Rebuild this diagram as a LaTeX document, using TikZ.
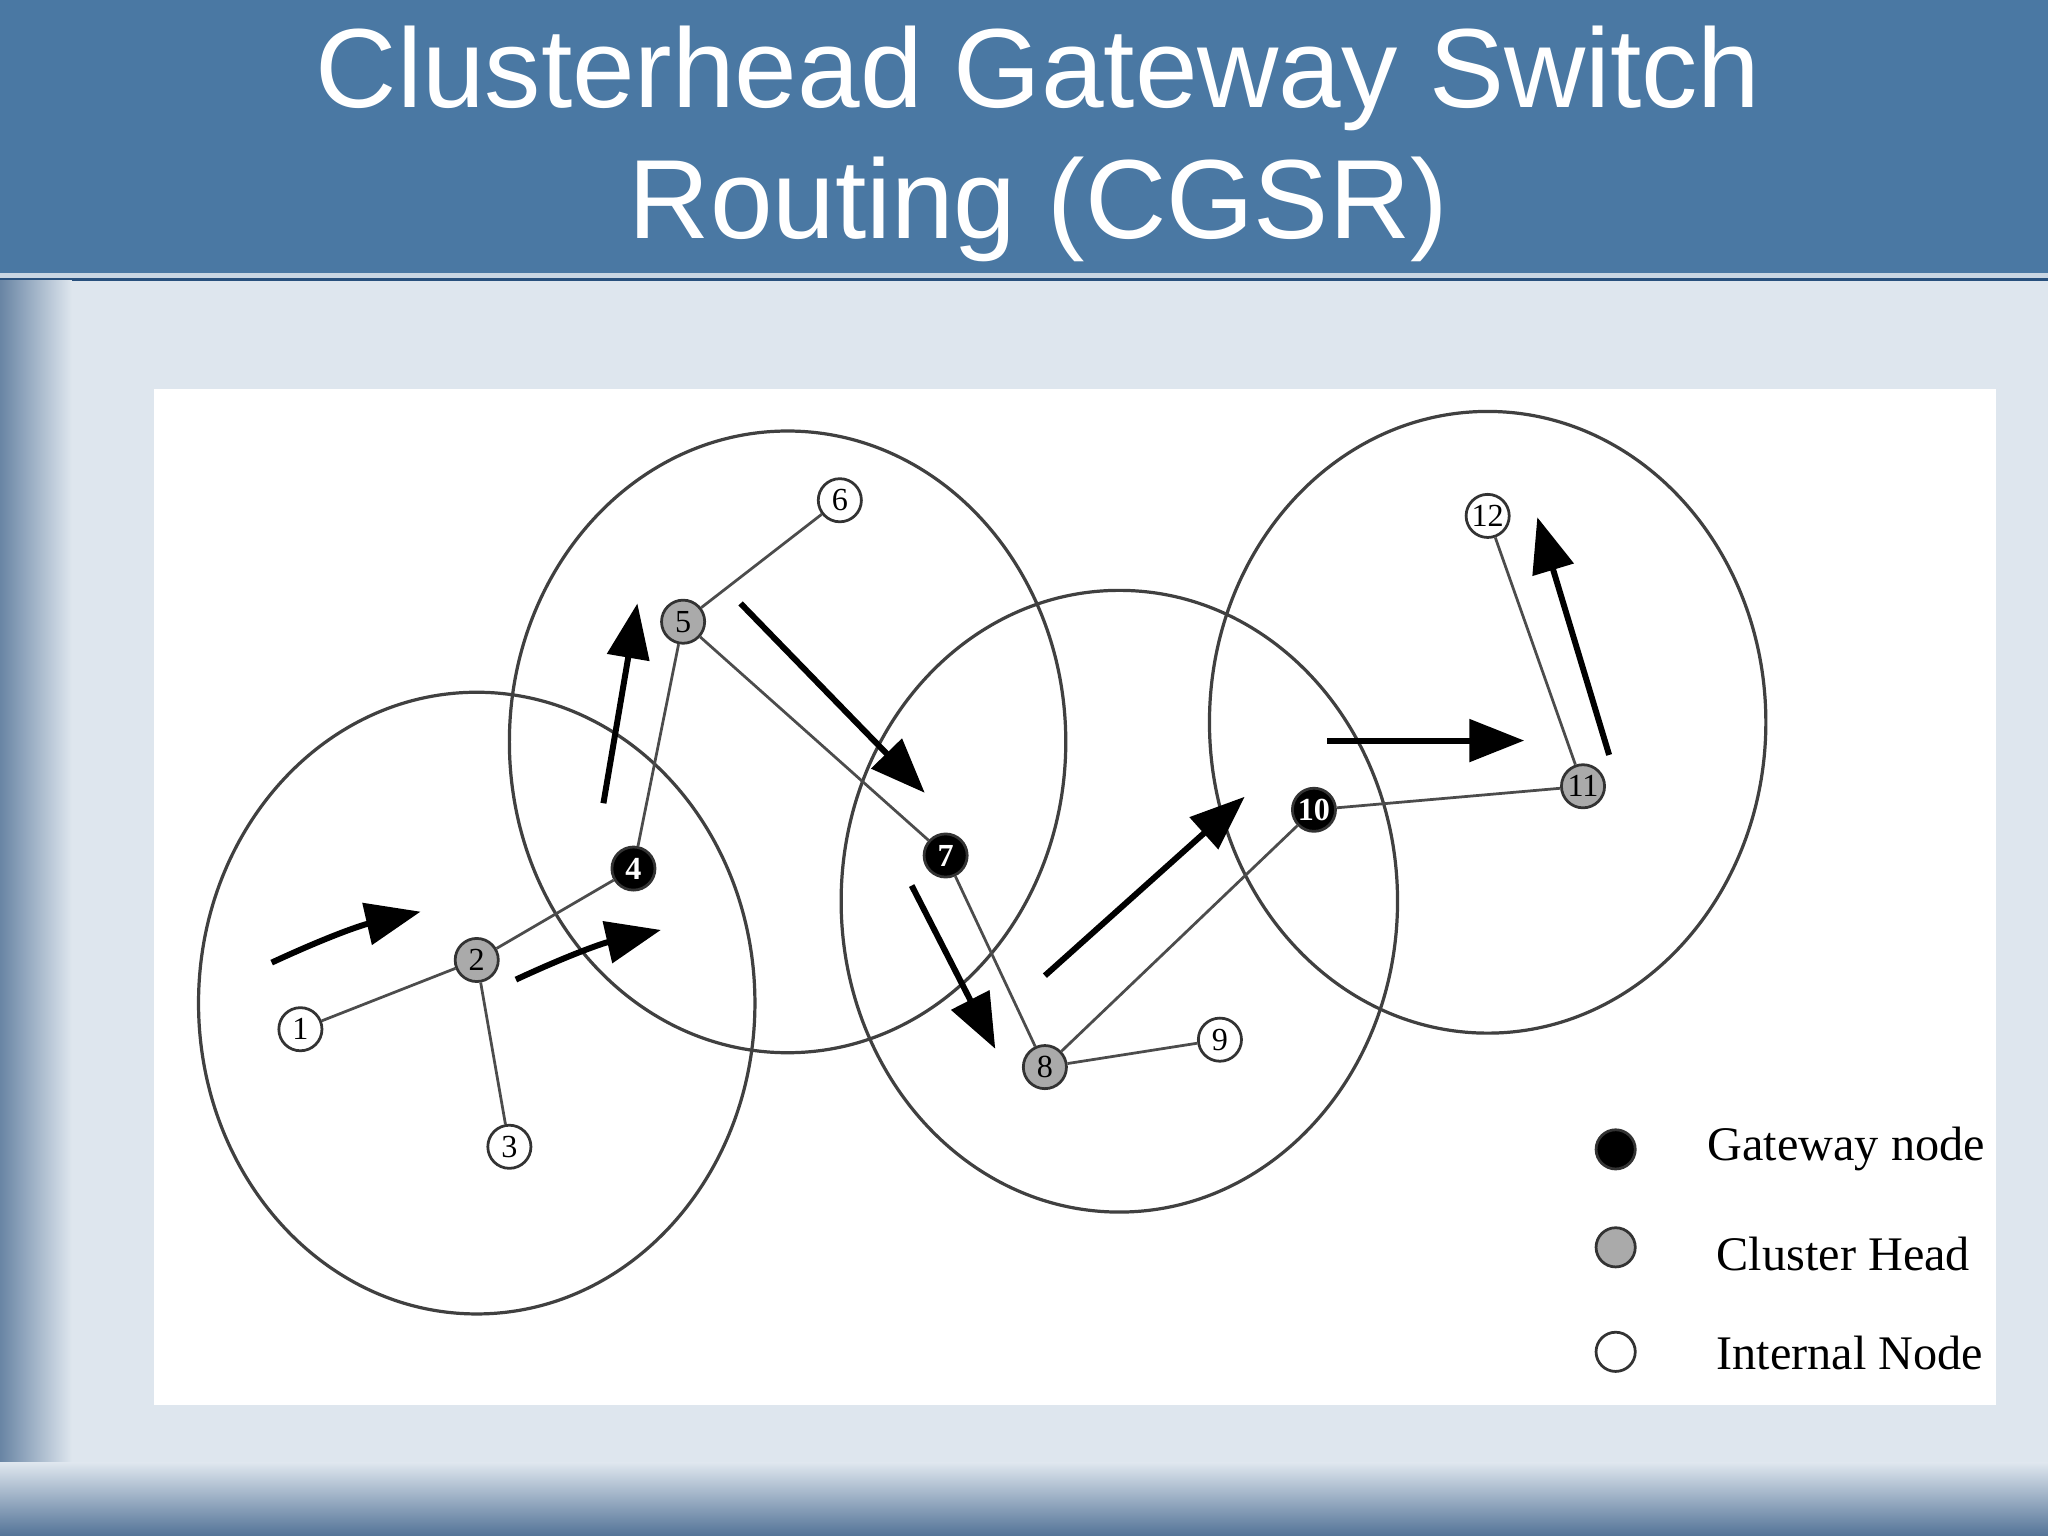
\documentclass[tikz,border=0pt]{standalone}
\usepackage{fontspec}
\setmainfont{Liberation Serif}
\newfontfamily\titlefont{Liberation Sans}
\usetikzlibrary{arrows.meta}
\definecolor{barblue}{RGB}{74,120,163}
\definecolor{bgpale}{RGB}{222,230,238}
\definecolor{bgdark}{RGB}{40,80,125}
\definecolor{chgrey}{RGB}{170,170,170}
\begin{document}
\begin{tikzpicture}[x=0.01cm,y=-0.01cm,
  nd/.style={circle,draw=black!80,line width=0.6pt,minimum size=0.33cm,inner sep=0pt,font=\fontsize{7}{7}\selectfont},
  inode/.style={nd,fill=white},
  chnode/.style={nd,fill=chgrey},
  gwnode/.style={nd,fill=black,text=white},
  link/.style={draw=black!70,line width=0.6pt},
  cluster/.style={draw=black!75,line width=0.7pt},
  flow/.style={line width=1.3pt,-{Triangle[length=0.42cm,width=0.32cm]}},
  legtext/.style={anchor=west,font=\fontsize{10.5}{10.5}\selectfont}]
\useasboundingbox (0,0) rectangle (1568,1176);
% background
\fill[bgdark] (0,0) rectangle (1568,1176);
\fill[bgpale] (55,215) rectangle (1568,1120);
\shade[left color=bgdark!70,right color=bgpale] (0,215) rectangle (55,1120);
\shade[top color=bgpale,bottom color=bgdark!80] (0,1120) rectangle (1568,1176);
\fill[barblue] (0,0) rectangle (1568,210);
\draw[white!70!barblue,line width=1pt] (0,211) -- (1568,211);
\node[text=white,font=\titlefont\fontsize{24.5}{28.45}\selectfont,align=center] (title) at (795,110) {Clusterhead Gateway Switch\\Routing (CGSR)};
% white panel
\fill[white] (118,298) rectangle (1528,1076);
% clusters
\draw[cluster] (365,768) ellipse (213 and 238);
\draw[cluster] (603,568) ellipse (213 and 238);
\draw[cluster] (857,690) ellipse (213 and 238);
\draw[cluster] (1139,553) ellipse (213 and 238);
% nodes
\node[inode] (n1) at (230,788) {1};
\node[chnode] (n2) at (365,735) {2};
\node[inode] (n3) at (390,878) {3};
\node[gwnode] (n4) at (485,665) {\textbf{4}};
\node[chnode] (n5) at (523,476) {5};
\node[inode] (n6) at (643,383) {6};
\node[gwnode] (n7) at (724,655) {\textbf{7}};
\node[chnode] (n8) at (800,817) {8};
\node[inode] (n9) at (934,796) {9};
\node[gwnode] (n10) at (1006,620) {\textbf{10}};
\node[chnode] (n11) at (1212,602) {11};
\node[inode] (n12) at (1139,395) {12};
\foreach \a/\b in {n1/n2,n2/n3,n2/n4,n4/n5,n5/n6,n5/n7,n7/n8,n8/n9,n8/n10,n10/n11,n11/n12}
  \draw[link] (\a) -- (\b);
% flow arrows
\coordinate (a1s) at (208,737); \coordinate (a1e) at (322,698);
\coordinate (a2s) at (395,750); \coordinate (a2e) at (506,712);
\coordinate (a3s) at (462,615); \coordinate (a3e) at (488,462);
\coordinate (a4s) at (567,462); \coordinate (a4e) at (708,607);
\coordinate (a5s) at (698,678); \coordinate (a5e) at (762,803);
\coordinate (a6s) at (800,747); \coordinate (a6e) at (953,610);
\coordinate (a7s) at (1016,567); \coordinate (a7e) at (1167,567);
\coordinate (a8s) at (1232,578); \coordinate (a8e) at (1177,396);
\draw[flow] (a1s) to[bend left=6] (a1e);
\draw[flow] (a2s) to[bend left=6] (a2e);
\draw[flow] (a3s) -- (a3e);
\draw[flow] (a4s) -- (a4e);
\draw[flow] (a5s) -- (a5e);
\draw[flow] (a6s) -- (a6e);
\draw[flow] (a7s) -- (a7e);
\draw[flow] (a8s) -- (a8e);
% legend
\node[gwnode,minimum size=0.3cm] (lg1) at (1237,880) {};
\node[chnode,minimum size=0.3cm] (lg2) at (1237,955) {};
\node[inode,minimum size=0.3cm] (lg3) at (1237,1035) {};
\node[legtext] (lt1) at (1295,880) {Gateway node};
\node[legtext] (lt2) at (1302,960) {Cluster Head};
\node[legtext] (lt3) at (1302,1036) {Internal Node};
\end{tikzpicture}
\end{document}
